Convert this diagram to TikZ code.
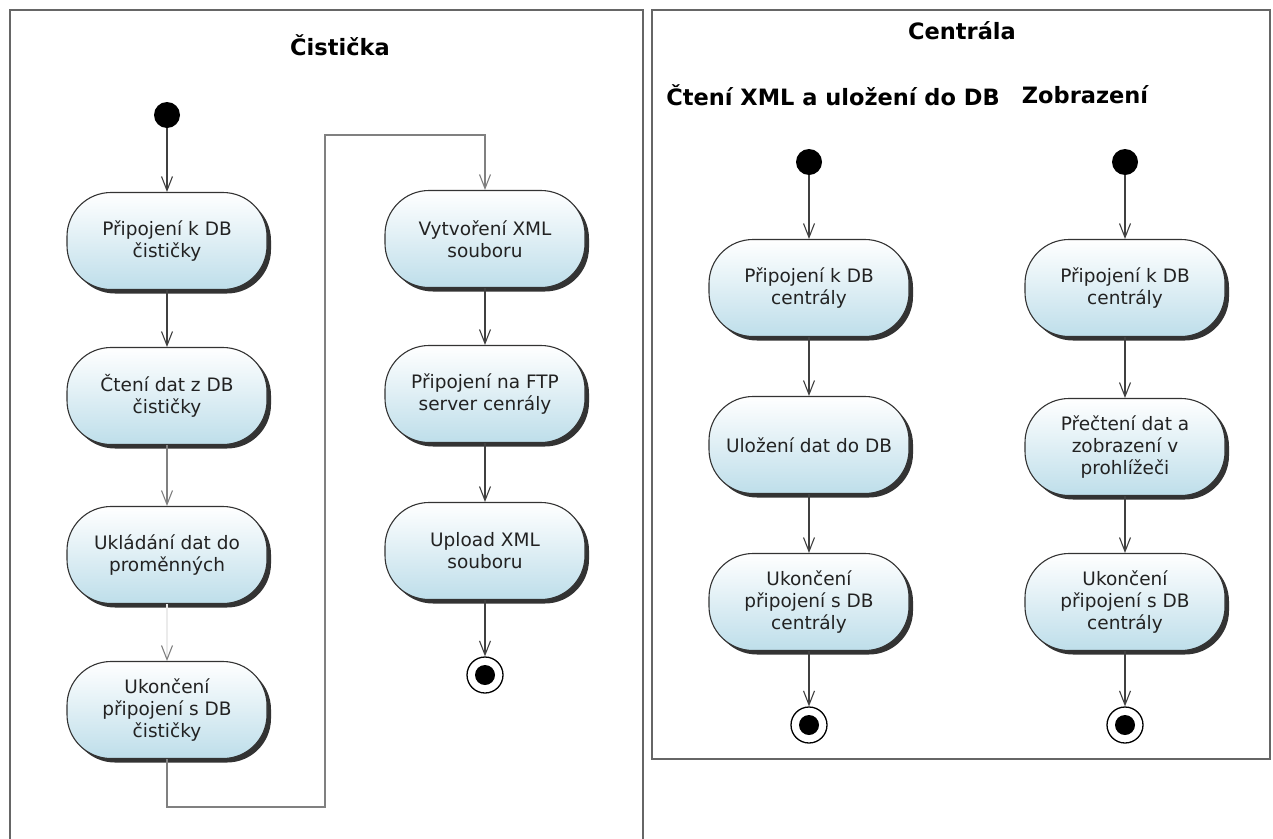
\documentclass[tikz,border=0pt]{standalone}
\usepackage{fontspec}
\setmainfont{DejaVu Sans}
\usetikzlibrary{arrows.meta,shadows}
\definecolor{nodeblue}{RGB}{190,222,234}
\definecolor{txt}{RGB}{34,34,34}
\begin{document}
\begin{tikzpicture}[x=1pt,y=-1pt,
  act/.style={draw=black!80, line width=1.1pt, rounded corners=44pt,
    minimum width=200pt, minimum height=97pt, align=center, text=txt,
    font=\fontsize{18.5}{22}\selectfont, top color=white, bottom color=nodeblue,
    drop shadow={shadow xshift=4pt, shadow yshift=-4pt, opacity=0.8, fill=black}},
  startnode/.style={circle, fill=black, minimum size=26pt, inner sep=0pt},
  endnode/.style={circle, draw=black, line width=1.3pt, fill=white, minimum size=36pt, inner sep=0pt,
    path picture={\fill[black] (path picture bounding box.center) circle (10pt);}},
  flow/.style={draw=black!75, line width=1.8pt, -{Straight Barb[length=14pt,width=11pt,line width=1.1pt]}},
  lightflow/.style={draw=black!50, line width=1.1pt, -{Straight Barb[length=14pt,width=11pt,line width=1.1pt]}},
  ghostflow/.style={draw=black!8, line width=1.1pt, -{Straight Barb[length=14pt,width=11pt,line width=1.1pt,color=black!50]}},
  frame/.style={draw=black!60, line width=1.6pt},
  title/.style={font=\bfseries\fontsize{22.5}{26}\selectfont, text=black}
]
\useasboundingbox (0,0) rectangle (1273,838);
\fill[white] (0,0) rectangle (1273,838);

% frames
\draw[frame] (10,845) -- (10,10) -- (643,10) -- (643,845);
\draw[frame] (652,10) rectangle (1270,759);

% titles
\node[title] (t1) at (340,45) {Čistička};
\node[title] (t2) at (962,31) {Centrála};
\node[title] (t3) at (833,95) {Čtení XML a uložení do DB};
\node[title] (t4) at (1085,95) {Zobrazení};

% Čistička, left column
\node[startnode] (s1) at (167,115) {};
\node[act] (l1) at (167,241) {Připojení k DB\\čističky};
\node[act] (l2) at (167,396) {Čtení dat z DB\\čističky};
\node[act] (l3) at (167,555) {Ukládání dat do\\proměnných};
\node[act] (l4) at (167,710) {Ukončení\\připojení s DB\\čističky};

% Čistička, right column
\node[act] (r1) at (485,239) {Vytvoření XML\\souboru};
\node[act] (r2) at (485,394) {Připojení na FTP\\server cenrály};
\node[act] (r3) at (485,551) {Upload XML\\souboru};
\node[endnode] (e1) at (485,675) {};

\draw[flow] (s1) -- (l1);
\draw[flow] (l1) -- (l2);
\draw[lightflow] (l2) -- (l3);
\draw[ghostflow] (l3) -- (l4);
\coordinate (k1) at (167,807);
\coordinate (k2) at (325,807);
\coordinate (k3) at (325,135);
\coordinate (k4) at (485,135);
\draw[lightflow] (l4.south) -- (k1) -- (k2) -- (k3) -- (k4) -- (r1.north);
\draw[flow] (r1) -- (r2);
\draw[flow] (r2) -- (r3);
\draw[flow] (r3) -- (e1);

% Centrála, column 1
\node[startnode] (s2) at (809,162) {};
\node[act] (c1) at (809,288) {Připojení k DB\\centrály};
\node[act] (c2) at (809,445) {Uložení dat do DB};
\node[act] (c3) at (809,602) {Ukončení\\připojení s DB\\centrály};
\node[endnode] (e2) at (809,725) {};
\draw[flow] (s2) -- (c1);
\draw[flow] (c1) -- (c2);
\draw[flow] (c2) -- (c3);
\draw[flow] (c3) -- (e2);

% Centrála, column 2
\node[startnode] (s3) at (1125,162) {};
\node[act] (d1) at (1125,288) {Připojení k DB\\centrály};
\node[act] (d2) at (1125,447) {Přečtení dat a\\zobrazení v\\prohlížeči};
\node[act] (d3) at (1125,602) {Ukončení\\připojení s DB\\centrály};
\node[endnode] (e3) at (1125,725) {};
\draw[flow] (s3) -- (d1);
\draw[flow] (d1) -- (d2);
\draw[flow] (d2) -- (d3);
\draw[flow] (d3) -- (e3);
\end{tikzpicture}
\end{document}
